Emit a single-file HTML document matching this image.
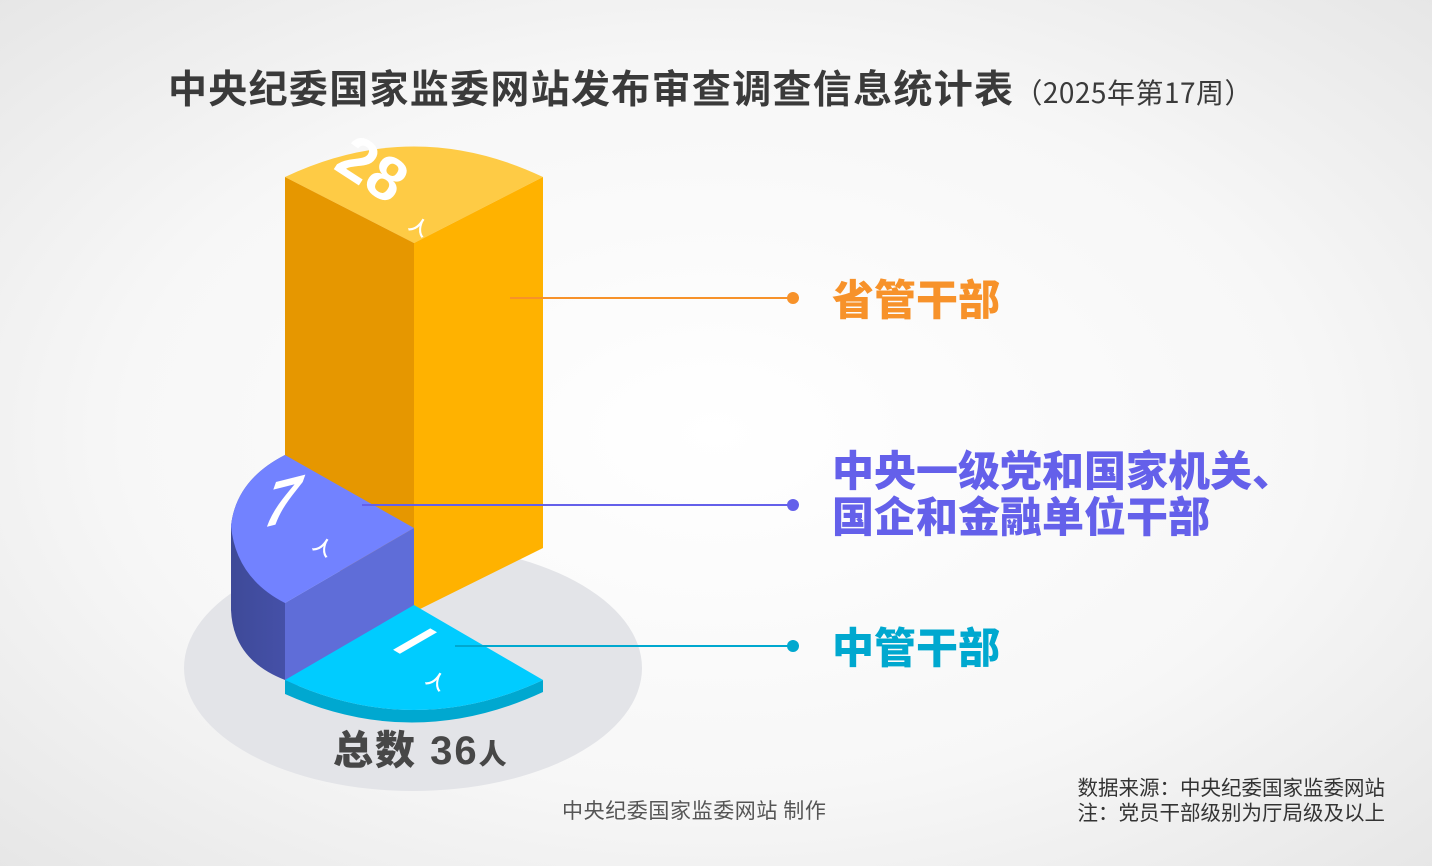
<!DOCTYPE html>
<html><head><meta charset="utf-8"><style>
html,body{margin:0;padding:0}
body{width:1432px;height:866px;overflow:hidden;background:radial-gradient(ellipse 75% 75% at 50% 50%,#ffffff 0%,#f7f7f7 55%,#e4e4e4 100%);font-family:"Liberation Sans","Noto Sans CJK SC",sans-serif;position:relative}
.t{position:absolute;white-space:nowrap}
</style></head><body>
<svg width="1432" height="866" style="position:absolute;left:0;top:0">
<defs>
<linearGradient id="bl" x1="0" x2="1"><stop offset="0" stop-color="#3e4a98"/><stop offset="1" stop-color="#4550a8"/></linearGradient>
</defs>
<ellipse cx="413" cy="668" rx="229" ry="123" fill="#e3e4e8"/>
<path d="M285,177 Q414,116 543,177 L414,243 Z" fill="#fecb45"/>
<path d="M285,177 L414,243 L414,612 L285,540 Z" fill="#e69700"/>
<path d="M414,243 L543,177 L543,548 L414,612 Z" fill="#ffb200"/>
<path d="M231,526 Q236,480 285,455 L285,680 Q233,660 231,610 Z" fill="url(#bl)"/>
<path d="M285,603 L414,528 L414,612 L285,694 Z" fill="#5f6dd8"/>
<path d="M414,528 L285,455 Q236,480 231,526 Q236,578 285,603 Z" fill="#7282ff"/>
<path d="M285,680 Q414,740 543,680 L543,692 Q414,752 285,694 Z" fill="#00a8d0"/>
<path d="M414,605 L543,680 Q414,740 285,680 Z" fill="#00ccff"/>
<line x1="510" y1="298" x2="793" y2="298" stroke="#f7922a" stroke-width="2"/>
<circle cx="793" cy="298" r="6" fill="#f7922a"/>
<line x1="362" y1="505" x2="793" y2="505" stroke="#6460ea" stroke-width="2"/>
<circle cx="793" cy="505" r="6" fill="#6460ea"/>
<line x1="455" y1="646" x2="793" y2="646" stroke="#00a8cf" stroke-width="2"/>
<circle cx="793" cy="646" r="6" fill="#00a8cf"/>
<g font-family="Liberation Sans,sans-serif" font-weight="bold" fill="#fff">
<text x="0" y="0" font-size="62" transform="translate(332,168) rotate(33)">28</text>
<text x="0" y="0" font-size="18" transform="translate(408,228) rotate(30)">人</text>
<text x="0" y="0" font-size="60" font-style="italic" transform="translate(262,528) rotate(-14) skewX(-25)">7</text>
<text x="0" y="0" font-size="18" transform="translate(312,548) rotate(30)">人</text>
<text x="0" y="0" font-size="54" transform="translate(390,648) rotate(30) skewX(-30)">I</text>
<text x="0" y="0" font-size="18" transform="translate(425,682) rotate(30)">人</text>
</g>
</svg>
<div class="t" style="left:168px;top:59px;font-size:39px;font-weight:bold;color:#3a3a3a;letter-spacing:1.3px;font-family:'Noto Sans CJK SC',sans-serif">中央纪委国家监委网站发布审查调查信息统计表<span style="font-size:28px;font-weight:normal;letter-spacing:0.5px">（2025年第17周）</span></div>
<div class="t" style="left:832px;top:274px;font-size:42px;font-weight:900;color:#f7922a;font-family:'Noto Sans CJK SC',sans-serif;line-height:48px">省管干部</div>
<div class="t" style="left:832px;top:446px;font-size:42px;font-weight:900;color:#6460ea;font-family:'Noto Sans CJK SC',sans-serif;line-height:46px">中央一级党和国家机关、<br>国企和金融单位干部</div>
<div class="t" style="left:832px;top:622px;font-size:42px;font-weight:900;color:#00a8cf;font-family:'Noto Sans CJK SC',sans-serif;line-height:48px">中管干部</div>
<div class="t" style="left:333px;top:728px;font-size:40px;font-weight:900;color:#474747;font-family:'Liberation Sans','Noto Sans CJK SC',sans-serif;line-height:46px;letter-spacing:2px">总数 36<span style="font-size:28px">人</span></div>
<div class="t" style="left:562px;top:797px;font-size:21px;letter-spacing:0.6px;color:#555;font-family:'Noto Sans CJK SC',sans-serif;line-height:26px">中央纪委国家监委网站 制作</div>
<div class="t" style="right:47px;top:774px;font-size:20.5px;color:#333;text-align:right;font-family:'Noto Sans CJK SC',sans-serif;line-height:25px">数据来源：中央纪委国家监委网站<br>注：党员干部级别为厅局级及以上</div>
</body></html>
